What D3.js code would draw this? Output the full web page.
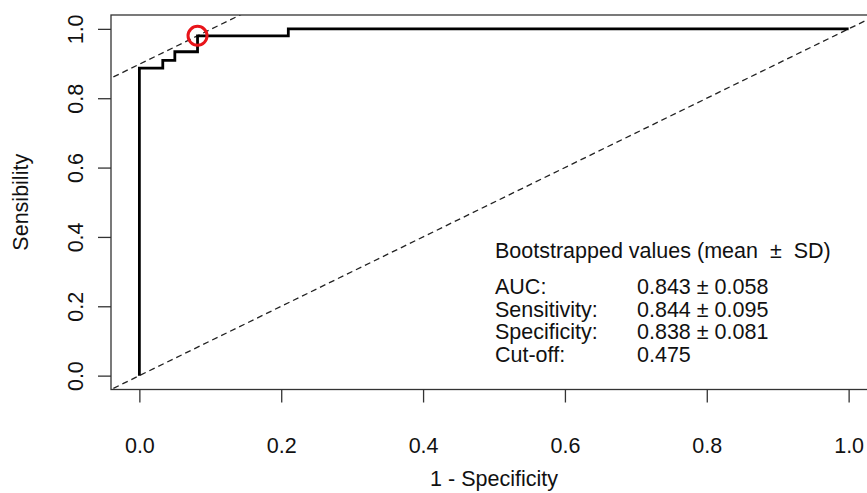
<!DOCTYPE html>
<html>
<head>
<meta charset="utf-8">
<script src="https://cdn.jsdelivr.net/npm/d3@7"></script>
<style>
  body { margin: 0; background: #fff; }
  text { font-family: "Liberation Sans", Arial, sans-serif; fill: #111; white-space: pre; }
</style>
</head>
<body>
<div id="chart"></div>
<script>
// ROC curve (step points)
const fpr = [0, 0, 0.033, 0.05, 0.082, 0.21, 1];
const tpr = [0, 0.887, 0.909, 0.934, 0.98, 1, 1];
const cutPoint = [0.082, 0.98];
const tickVals = [0, 0.2, 0.4, 0.6, 0.8, 1.0];
const statLabels = ["AUC:", "Sensitivity:", "Specificity:", "Cut-off:"];
const statValues = ["0.843 \u00b1 0.058", "0.844 \u00b1 0.095", "0.838 \u00b1 0.081", "0.475"];

const width = 867, height = 493;
const box = {left: 111, right: 877, top: 15, bottom: 389.5};
const fs = "21.5px";

const svg = d3.select("#chart").append("svg")
  .attr("width", width)
  .attr("height", height);

var x = d3.scaleLinear().domain([-0.04, 1.04]).range([box.left, box.right]);
var y = d3.scaleLinear().domain([-0.04, 1.04]).range([box.bottom, box.top]);

svg.append("clipPath").attr("id", "clip")
  .append("rect")
  .attr("x", box.left).attr("y", box.top)
  .attr("width", box.right - box.left).attr("height", box.bottom - box.top);

const plot = svg.append("g").attr("clip-path", "url(#clip)");

// chance line and the slope-1 line through the cut-off point
const dashed = [
  [[-0.1, -0.1], [1.1, 1.1]],
  [[-0.1, cutPoint[1] - cutPoint[0] - 0.1], [1.1, cutPoint[1] - cutPoint[0] + 1.1]]
];
dashed.forEach(function(seg) {
  plot.append("line")
    .attr("x1", x(seg[0][0])).attr("y1", y(seg[0][1]))
    .attr("x2", x(seg[1][0])).attr("y2", y(seg[1][1]))
    .attr("stroke", "#222")
    .attr("stroke-width", 1.3)
    .attr("stroke-dasharray", "6,4");
});

const line = d3.line()
  .x(function(d) { return x(d[0]); })
  .y(function(d) { return y(d[1]); })
  .curve(d3.curveStepAfter);

plot.append("path")
  .datum(d3.zip(fpr, tpr))
  .attr("d", line)
  .attr("fill", "none")
  .attr("stroke", "#000")
  .attr("stroke-width", 2.8);

plot.append("circle")
  .attr("cx", x(cutPoint[0]))
  .attr("cy", y(cutPoint[1]))
  .attr("r", 9.5)
  .attr("fill", "none")
  .attr("stroke", "#e8141a")
  .attr("stroke-width", 3);

// box
svg.append("rect")
  .attr("x", box.left).attr("y", box.top)
  .attr("width", box.right - box.left).attr("height", box.bottom - box.top)
  .attr("fill", "none")
  .attr("stroke", "#333")
  .attr("stroke-width", 1.3);

// axes
const xAxis = svg.append("g")
  .attr("transform", "translate(0," + box.bottom + ")")
  .call(d3.axisBottom(x).tickValues(tickVals).tickSize(13).tickFormat(d3.format(".1f")));
xAxis.select(".domain").remove();
xAxis.selectAll("line").attr("stroke", "#333").attr("stroke-width", 1.3);
xAxis.selectAll("text")
  .attr("y", 0).attr("dy", 0)
  .attr("transform", "translate(0,63)")
  .style("font-size", fs)
  .attr("fill", "#111");

const yAxis = svg.append("g")
  .attr("transform", "translate(" + box.left + ",0)")
  .call(d3.axisLeft(y).tickValues(tickVals).tickSize(13).tickFormat(d3.format(".1f")));
yAxis.select(".domain").remove();
yAxis.selectAll("line").attr("stroke", "#333").attr("stroke-width", 1.3);
yAxis.selectAll("text")
  .attr("x", 0).attr("dy", 0)
  .attr("text-anchor", "middle")
  .attr("transform", "translate(-28,0) rotate(-90)")
  .style("font-size", fs)
  .attr("fill", "#111");

// axis titles
svg.append("text")
  .attr("x", (box.left + box.right) / 2)
  .attr("y", 486)
  .attr("text-anchor", "middle")
  .style("font-size", fs)
  .text("1 - Specificity");

svg.append("text")
  .attr("transform", "translate(28," + (box.top + box.bottom) / 2 + ") rotate(-90)")
  .attr("text-anchor", "middle")
  .style("font-size", fs)
  .text("Sensibility");

// bootstrapped stats legend
svg.append("text")
  .attr("x", 495).attr("y", 258)
  .style("font-size", fs)
  .text("Bootstrapped values (mean  \u00b1  SD)");

statLabels.forEach(function(lab, i) {
  svg.append("text")
    .attr("x", 495).attr("y", 294 + i * 22.5)
    .style("font-size", fs)
    .text(lab);
  svg.append("text")
    .attr("x", 637).attr("y", 294 + i * 22.5)
    .style("font-size", fs)
    .text(statValues[i]);
});
</script>
</body>
</html>
